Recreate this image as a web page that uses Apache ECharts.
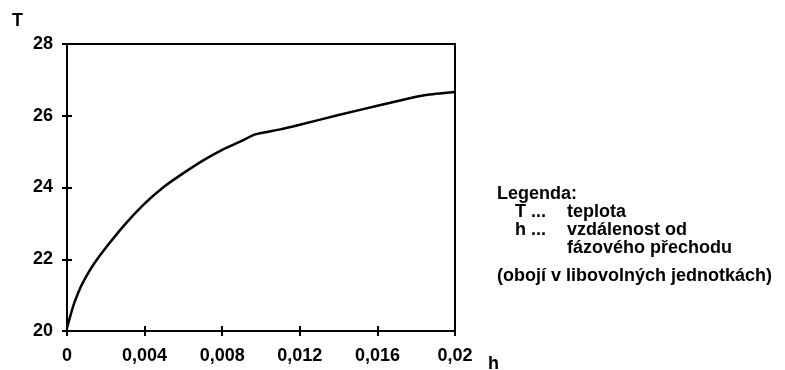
<!DOCTYPE html>
<html>
<head>
<meta charset="utf-8">
<script src="https://cdn.jsdelivr.net/npm/echarts@6/dist/echarts.min.js"></script>
<style>html,body{margin:0;padding:0;background:#fff;}#c{width:785px;height:370px;}</style>
</head>
<body>
<div id="c"></div>
<script>
// h values (distance from phase transition)
var hValues = [0, 0.0002, 0.0004, 0.0007, 0.001, 0.0014, 0.002, 0.003, 0.004, 0.005, 0.006, 0.007, 0.008, 0.009, 0.0097, 0.011, 0.012, 0.014, 0.016, 0.018, 0.0185, 0.02];
// T values (temperature)
var tValues = [20.08, 20.48, 20.82, 21.22, 21.53, 21.88, 22.32, 22.98, 23.55, 24.02, 24.4, 24.75, 25.05, 25.3, 25.48, 25.62, 25.75, 26.02, 26.28, 26.53, 26.58, 26.66];
var xTicks = [0, 0.004, 0.008, 0.012, 0.016, 0.02];
var yTicks = [20, 22, 24, 26, 28];
var legendLines = ["Legenda:", "T ...", "teplota", "h ...", "vzdálenost od", "fázového přechodu", "(obojí v libovolných jednotkách)"];

var FONT = '"Liberation Sans", Arial, sans-serif';
var data = hValues.map(function (h, i) { return [h, tValues[i]]; });

var chart = echarts.init(document.getElementById('c'));
var txt = function (left, top, s) {
  return { type: 'text', left: left, top: top, style: { text: s, font: 'bold 18px ' + FONT, fill: '#000' } };
};
chart.setOption({
  animation: false,
  backgroundColor: '#fff',
  grid: { left: 67, right: 330, top: 44, bottom: 39, show: true, borderColor: '#000', borderWidth: 2, backgroundColor: 'transparent' },
  xAxis: {
    type: 'value', position: 'bottom', offset: -5,
    min: xTicks[0], max: xTicks[xTicks.length - 1], interval: 0.004,
    axisLine: { show: false },
    axisTick: { show: true, length: 10, lineStyle: { color: '#000', width: 2 } },
    splitLine: { show: false },
    axisLabel: { color: '#000', fontFamily: FONT, fontWeight: 'bold', fontSize: 18, margin: 21,
      formatter: function (v) { return String(+v.toFixed(3)).replace('.', ','); } }
  },
  yAxis: {
    type: 'value', position: 'left', offset: -5,
    min: yTicks[0], max: yTicks[yTicks.length - 1], interval: 2,
    axisLine: { show: false },
    axisTick: { show: true, length: 10, lineStyle: { color: '#000', width: 2 } },
    splitLine: { show: false },
    axisLabel: { color: '#000', fontFamily: FONT, fontWeight: 'bold', fontSize: 18, margin: 19 }
  },
  series: [{
    type: 'line', data: data, smooth: 0.2, showSymbol: false,
    lineStyle: { color: '#000', width: 2.5 }
  }],
  graphic: [
    txt(12, 12, 'T'),
    txt(488, 355, 'h'),
    txt(497, 185, legendLines[0]),
    txt(515, 203, legendLines[1]),
    txt(567, 203, legendLines[2]),
    txt(515, 221, legendLines[3]),
    txt(567, 221, legendLines[4]),
    txt(567, 239, legendLines[5]),
    txt(497, 267, legendLines[6])
  ]
});
</script>
</body>
</html>
